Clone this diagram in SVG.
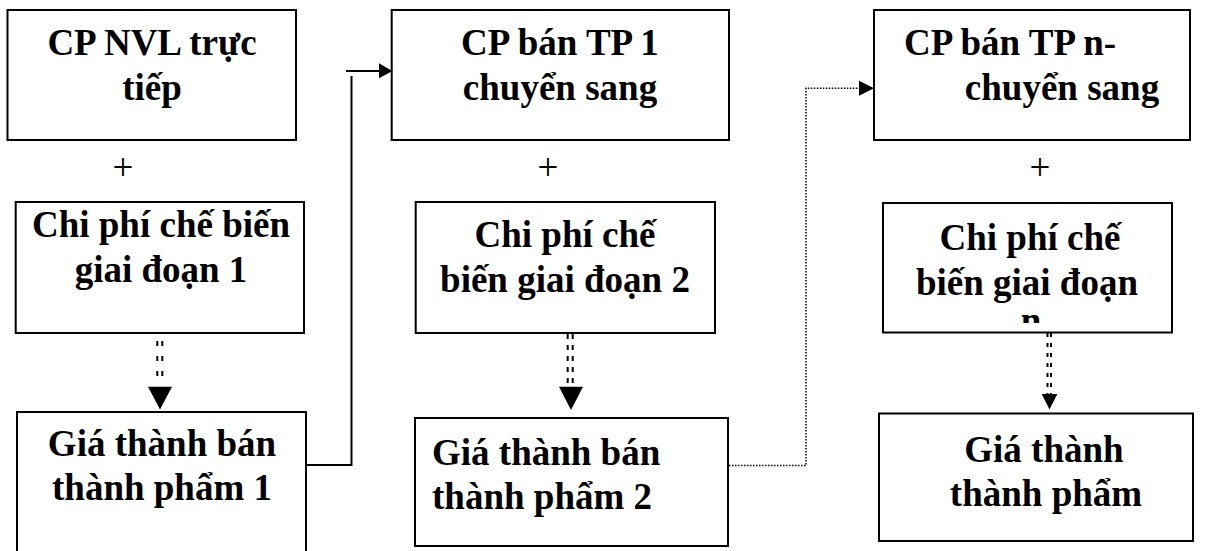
<svg xmlns="http://www.w3.org/2000/svg" width="1211" height="551" viewBox="0 0 1211 551">
  <style>
    .box { fill: #fff; stroke: #000; stroke-width: 2; }
    .lbl { font-family: "Liberation Serif", "Times New Roman", serif; font-weight: bold; font-size: 37px; fill: #000; text-anchor: middle; }
    .plus { font-family: "Liberation Serif", "Times New Roman", serif; font-size: 37px; fill: #000; text-anchor: middle; }
    .solid { fill: none; stroke: #000; stroke-width: 2; }
    .dotted { fill: none; stroke: #000; stroke-width: 1.5; stroke-dasharray: 1.5 1.5; }
    .dbl { fill: none; stroke: #000; stroke-width: 2; }
  </style>
  <defs>
    <clipPath id="clip-cpcb-n">
      <rect x="884" y="204" width="287" height="119"/>
    </clipPath>
  </defs>
  <rect width="1211" height="551" fill="#fff"/>

  <!-- Column 1 -->
  <g id="cp-nvl">
    <rect class="box" x="7.5" y="10" width="288.5" height="130"/>
    <text class="lbl" x="152" y="55">CP NVL trực</text>
    <text class="lbl" x="152" y="100">tiếp</text>
  </g>
  <g id="plus-1"><text class="plus" x="123" y="179.5">+</text></g>
  <g id="cpcb-1">
    <rect class="box" x="15.7" y="202" width="288.3" height="131"/>
    <text class="lbl" x="161" y="237">Chi phí chế biến</text>
    <text class="lbl" x="161" y="282">giai đoạn 1</text>
  </g>
  <g id="gt-btp-1">
    <rect class="box" x="17" y="412" width="289" height="150"/>
    <text class="lbl" x="162" y="456">Giá thành bán</text>
    <text class="lbl" x="162" y="500">thành phẩm 1</text>
  </g>

  <!-- Column 2 -->
  <g id="cp-btp-1">
    <rect class="box" x="391.7" y="10" width="337.3" height="130"/>
    <text class="lbl" x="560" y="55">CP bán TP 1</text>
    <text class="lbl" x="560" y="100">chuyển sang</text>
  </g>
  <g id="plus-2"><text class="plus" x="548" y="179.5">+</text></g>
  <g id="cpcb-2">
    <rect class="box" x="415.7" y="202" width="299.3" height="131"/>
    <text class="lbl" x="565" y="247">Chi phí chế</text>
    <text class="lbl" x="565" y="292">biến giai đoạn 2</text>
  </g>
  <g id="gt-btp-2">
    <rect class="box" x="415" y="418" width="313" height="128"/>
    <text class="lbl" x="432" y="465" style="text-anchor:start">Giá thành bán</text>
    <text class="lbl" x="432" y="509" style="text-anchor:start">thành phẩm 2</text>
  </g>

  <!-- Column 3 -->
  <g id="cp-btp-n">
    <rect class="box" x="874" y="10" width="316" height="130"/>
    <text class="lbl" x="904" y="55" style="text-anchor:start">CP bán TP n-</text>
    <text class="lbl" x="1062" y="100">chuyển sang</text>
  </g>
  <g id="plus-3"><text class="plus" x="1040" y="179.5">+</text></g>
  <g id="cpcb-n">
    <rect class="box" x="883" y="203" width="289" height="129.5"/>
    <!-- the last wrapped line overflows the text area and is cut off -->
    <g clip-path="url(#clip-cpcb-n)">
      <text class="lbl" x="1030" y="250">Chi phí chế</text>
      <text class="lbl" x="1027" y="295">biến giai đoạn</text>
      <text class="lbl" x="1031" y="333">n</text>
    </g>
  </g>
  <g id="gt-tp">
    <rect class="box" x="879" y="413.5" width="314" height="127.5"/>
    <text class="lbl" x="1044" y="462">Giá thành</text>
    <text class="lbl" x="1046" y="506">thành phẩm</text>
  </g>

  <!-- Connectors -->
  <g id="connectors">
    <!-- stage 1: costs to semi-finished cost -->
    <line class="dbl" x1="157.3" y1="341" x2="157.3" y2="386" stroke-dasharray="5 10"/>
    <line class="dbl" x1="162.3" y1="341" x2="162.3" y2="386" stroke-dasharray="5 10"/>
    <polygon points="148,386.7 172,386.7 160,409.5" fill="#000"/>

    <!-- stage 2 -->
    <line class="dbl" x1="567.7" y1="334" x2="567.7" y2="387" stroke-dasharray="5 6"/>
    <line class="dbl" x1="572.7" y1="334" x2="572.7" y2="387" stroke-dasharray="5 6"/>
    <polygon points="559,386.7 583,386.7 571,410" fill="#000"/>

    <!-- stage n -->
    <line class="dbl" x1="1047.5" y1="333" x2="1047.5" y2="394" stroke-dasharray="4 6"/>
    <line class="dbl" x1="1051" y1="333" x2="1051" y2="394" stroke-dasharray="4 6"/>
    <polygon points="1041.7,394 1057.3,394 1049.5,409.5" fill="#000"/>

    <!-- semi-finished 1 carried into stage 2 -->
    <polyline class="solid" points="306,465 351.5,465 351.5,76"/>
    <line class="solid" x1="346" y1="71" x2="380" y2="71"/>
    <polygon points="379,63.3 392.3,71 379,78.3" fill="#000"/>

    <!-- semi-finished 2 carried into stage n -->
    <polyline class="dotted" points="729,465.5 806,465.5 806,88.3 860,88.3"/>
    <polygon points="859,80.7 874,88.3 859,95.7" fill="#000"/>
  </g>
</svg>
